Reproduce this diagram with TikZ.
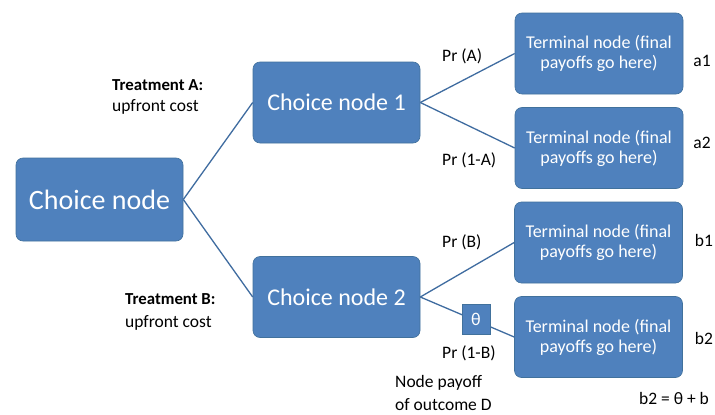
\documentclass[tikz,border=0pt]{standalone}
\usepackage{fontspec}
\setmainfont{Carlito}
\definecolor{boxblue}{HTML}{4F81BD}
\definecolor{boxedge}{HTML}{41719C}
\definecolor{linkblue}{HTML}{3F6CA0}
\begin{document}
\begin{tikzpicture}[x=1pt,y=-1pt,
  box/.style={draw=boxedge,fill=boxblue,rounded corners=7pt,text=white,align=center,inner sep=0pt,line width=0.6pt},
  bigbox/.style={box,minimum width=167pt,minimum height=83pt,font=\fontsize{28}{32}\selectfont},
  midbox/.style={box,minimum width=167pt,minimum height=81pt,font=\fontsize{24}{28}\selectfont},
  termbox/.style={box,minimum width=168pt,minimum height=81pt,font=\fontsize{18}{20}\selectfont},
  link/.style={draw=linkblue,line width=1.3pt},
  lbl/.style={font=\fontsize{17.5}{21}\selectfont,inner sep=0pt,align=left},
  blbl/.style={font=\fontsize{16.8}{20}\selectfont\bfseries,inner sep=0pt,align=left}]
\useasboundingbox (0,0) rectangle (715,415);
\fill[white] (0,0) rectangle (715,415);
\node[bigbox] (c0) at (99.5,199.5) {Choice node};
\node[midbox] (c1) at (336.5,102.5) {Choice node 1};
\node[midbox] (c2) at (336.5,297) {Choice node 2};
\node[termbox] (t1) at (599,53.5) {Terminal node (final\\payoffs go here)};
\node[termbox] (t2) at (599,148) {Terminal node (final\\payoffs go here)};
\node[termbox] (t3) at (598.5,242.5) {Terminal node (final\\payoffs go here)};
\node[termbox] (t4) at (598.5,337) {Terminal node (final\\payoffs go here)};
\path[link] (c0.east) -- (c1.west);
\path[link] (c0.east) -- (c2.west);
\path[link] (c1.east) -- (t1.west);
\path[link] (c1.east) -- (t2.west);
\path[link] (c2.east) -- (t3.west);
\path[link] (c2.east) -- (t4.west);
\node[box,rounded corners=0pt,minimum width=28pt,minimum height=30pt,font=\fontsize{18}{20}\selectfont] (th) at (476,319) {θ};
\node[blbl,anchor=west] (ta) at (112,85) {Treatment A:};
\node[lbl,anchor=west] (ua) at (112,107) {upfront cost};
\node[blbl,anchor=west] (tb) at (125,299) {Treatment B:};
\node[lbl,anchor=west] (ub) at (125,323) {upfront cost};
\node[lbl,anchor=west] (pa) at (442,56) {Pr (A)};
\node[lbl,anchor=west] (pna) at (442,160) {Pr (1-A)};
\node[lbl,anchor=west] (pb) at (442,242) {Pr (B)};
\node[lbl,anchor=west] (pnb) at (442,353) {Pr (1-B)};
\node[lbl] (a1) at (702,61) {a1};
\node[lbl] (a2) at (702,143) {a2};
\node[lbl] (b1) at (704,240) {b1};
\node[lbl] (b2) at (704,338) {b2};
\node[lbl,anchor=west] (np) at (395,383) {Node payoff};
\node[lbl,anchor=west] (oc) at (395,405) {of outcome D};
\node[lbl] (eq) at (674,398) {b2 = θ + b};
\end{tikzpicture}
\end{document}
